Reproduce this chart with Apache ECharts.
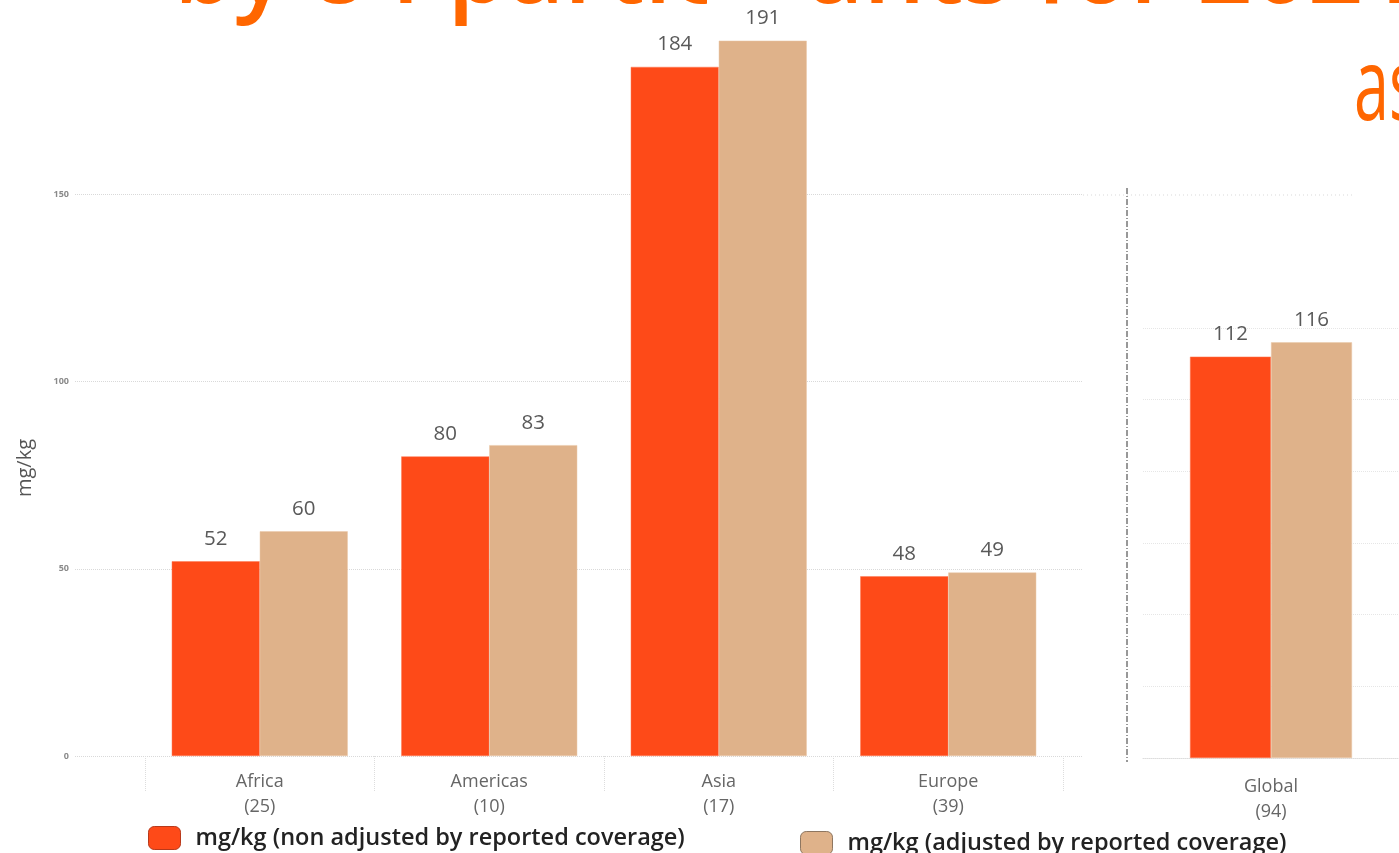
<!DOCTYPE html>
<html>
<head>
<meta charset="utf-8">
<script src="https://cdn.jsdelivr.net/npm/echarts@6/dist/echarts.min.js"></script>
<style>
html,body{margin:0;padding:0;background:#fff;}
#c{width:1399px;height:853px;}
</style>
</head>
<body>
<div id="c"></div>
<script>
// ---- data ----
const regions = ['Africa', 'Americas', 'Asia', 'Europe'];
const regionCounts = [25, 10, 17, 39];
const nonAdjusted = [52, 80, 184, 48];
const adjusted = [60, 83, 191, 49];
const globalCat = ['Global'];
const globalCount = [94];
const globalNonAdjusted = [112];
const globalAdjusted = [116];
const seriesNames = ['mg/kg (non adjusted by reported coverage)', 'mg/kg (adjusted by reported coverage)'];
const yTicks = [0, 50, 100, 150, 200];
const titleLine1 = 'by 84 participants for 2021';
const titleLine2 = 'as';

const RED = '#FE4A18';
const TAN = '#DFB28A';
const FONT = 'Open Sans';

const chart = echarts.init(document.getElementById('c'));

const catLabels = regions.map((r, i) => r + '\n(' + regionCounts[i] + ')');
const globalLabels = globalCat.map((r, i) => r + '\n(' + globalCount[i] + ')');

const valueLabel = {
  show: true, position: 'top', distance: 12,
  fontFamily: FONT, fontSize: 20.5, color: '#595959'
};

const legendText = { fontFamily: FONT, fontSize: 23.5, fontWeight: 600, color: '#222', padding: [0, 0, 0, 10] };

const option = {
  backgroundColor: '#fff',
  animation: false,
  legend: [
    {
      data: [seriesNames[0]], left: 143, top: 821, itemWidth: 32, itemHeight: 23,
      icon: 'roundRect',
      itemStyle: { borderColor: '#B8391A', borderWidth: 1 },
      textStyle: legendText
    },
    {
      data: [seriesNames[1]], left: 795, top: 826, itemWidth: 32, itemHeight: 23,
      icon: 'roundRect',
      itemStyle: { borderColor: '#8E7660', borderWidth: 1 },
      textStyle: legendText
    }
  ],
  grid: [
    { left: 75, width: 1008, top: 7, bottom: 97 },   // background gridlines + y labels
    { left: 145, width: 918, top: 7, bottom: 97 },   // regional bars
    { left: 1143, width: 272, top: 328, bottom: 95 } // global bars
  ],
  xAxis: [
    { gridIndex: 0, type: 'category', data: [''], show: false },
    {
      gridIndex: 1, type: 'category', data: catLabels,
      axisLine: { show: false },
      axisTick: { show: true, length: 35, inside: false, lineStyle: { color: '#ddd', type: 'dotted' } },
      axisLabel: { fontFamily: FONT, fontSize: 18, color: '#666', lineHeight: 25, margin: 13 }
    },
    {
      gridIndex: 2, type: 'category', data: globalLabels,
      axisLine: { show: true, lineStyle: { color: '#ddd', type: 'dotted' } },
      axisTick: { show: false },
      axisLabel: { fontFamily: FONT, fontSize: 18, color: '#666', lineHeight: 25, margin: 16 }
    }
  ],
  yAxis: [
    {
      gridIndex: 0, type: 'value', min: yTicks[0], max: yTicks[yTicks.length - 1], interval: 50,
      axisLine: { show: false }, axisTick: { show: false },
      axisLabel: {
        fontFamily: FONT, fontSize: 9, fontWeight: 'bold', color: '#8a8a8a', margin: 6,
        showMaxLabel: false
      },
      splitLine: { show: true, showMaxLine: false, lineStyle: { color: '#d9d9d9', type: 'dotted' } }
    },
    {
      gridIndex: 1, type: 'value', min: yTicks[0], max: yTicks[yTicks.length - 1], interval: 50,
      show: false, splitLine: { show: false }
    },
    {
      gridIndex: 2, type: 'value', min: 0, max: 120, interval: 20,
      axisLine: { show: false }, axisTick: { show: false }, axisLabel: { show: false },
      splitLine: { show: true, lineStyle: { color: '#e6e6e6', type: 'dotted' } }
    }
  ],
  series: [
    {
      name: seriesNames[0], type: 'bar', xAxisIndex: 1, yAxisIndex: 1, z: 5,
      data: nonAdjusted, barWidth: 88, barGap: '0%',
      itemStyle: { color: RED, borderColor: '#FF7A55', borderWidth: 0.5 },
      label: valueLabel
    },
    {
      name: seriesNames[1], type: 'bar', xAxisIndex: 1, yAxisIndex: 1, z: 5,
      data: adjusted, barWidth: 88, barGap: '0%',
      itemStyle: { color: TAN, borderColor: '#EBC8A8', borderWidth: 0.5 },
      label: valueLabel
    },
    {
      name: seriesNames[0], type: 'bar', xAxisIndex: 2, yAxisIndex: 2, z: 5,
      data: globalNonAdjusted, barWidth: 81, barGap: '0%',
      itemStyle: { color: RED, borderColor: '#FF7A55', borderWidth: 0.5 },
      label: valueLabel
    },
    {
      name: seriesNames[1], type: 'bar', xAxisIndex: 2, yAxisIndex: 2, z: 5,
      data: globalAdjusted, barWidth: 81, barGap: '0%',
      itemStyle: { color: TAN, borderColor: '#EBC8A8', borderWidth: 0.5 },
      label: valueLabel
    }
  ],
  graphic: {
    elements: [
      {
        type: 'text', x: 174, y: 24, z: 0,
        style: { text: titleLine1, font: '600 97px "Open Sans"', fill: '#FF6600', textVerticalAlign: 'bottom' }
      },
      {
        type: 'rect', z: 1,
        shape: { x: 707, y: 0, width: 94, height: 40 },
        style: { fill: '#fff' }
      },
      {
        type: 'text', x: 1354, y: 142, z: 0, scaleX: 0.63,
        style: { text: titleLine2, font: '100px "Open Sans"', fill: '#FF6600', textVerticalAlign: 'bottom' }
      },
      {
        type: 'text', x: 25, y: 468, rotation: Math.PI / 2, z: 3,
        style: { text: 'mg/kg', font: '20px "Open Sans"', fill: '#555', textAlign: 'center', textVerticalAlign: 'middle' }
      },
      {
        type: 'line', z: 1,
        shape: { x1: 1083, y1: 195, x2: 1353, y2: 195 },
        style: { stroke: '#d9d9d9', lineWidth: 1, lineDash: [1, 3] }
      },
      {
        type: 'line', z: 3,
        shape: { x1: 1127, y1: 188, x2: 1127, y2: 762 },
        style: { stroke: '#333', lineWidth: 1, lineDash: [6, 2, 1, 2] }
      }
    ]
  }
};

chart.setOption(option);
</script>
</body>
</html>
